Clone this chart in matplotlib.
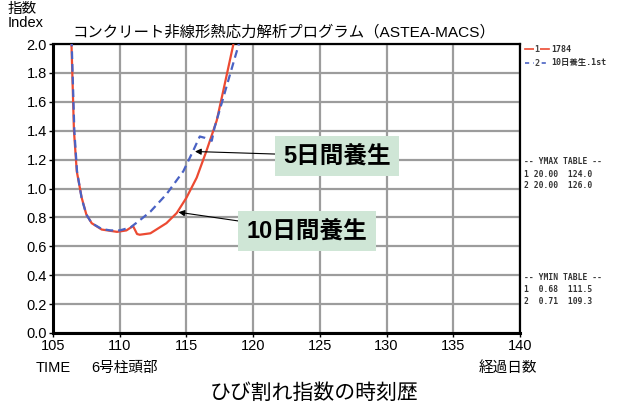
import numpy as np
import matplotlib
matplotlib.use("Agg")
import matplotlib.pyplot as plt
from matplotlib.lines import Line2D

plt.rcParams['font.family'] = ['Liberation Sans', 'Noto Sans CJK JP', 'DejaVu Sans']

# data
t_10 = [106.28, 106.4, 106.57, 106.78, 107.15, 107.5, 107.9, 108.65, 109.8, 110.5,
        111.0, 111.3, 111.5, 112.3, 113.5, 114.27, 115.0, 115.77, 116.5, 117.27,
        117.77, 118.5, 118.6]
y_10 = [2.3, 1.95, 1.40, 1.12, 0.936, 0.82, 0.76, 0.716, 0.70, 0.71,
        0.74, 0.685, 0.68, 0.69, 0.76, 0.83, 0.936, 1.075, 1.26, 1.47,
        1.68, 1.99, 2.05]

t_5 = [106.3, 106.42, 106.6, 106.8, 107.15, 107.5, 107.9, 108.65, 109.3, 110.0,
       110.8, 111.5, 112.3, 113.5, 114.77, 115.5, 116.0, 116.4, 116.9, 117.1,
       117.77, 118.3, 118.9, 119.0]
y_5 = [2.3, 1.95, 1.40, 1.12, 0.93, 0.82, 0.76, 0.72, 0.71, 0.71,
       0.73, 0.78, 0.84, 0.96, 1.12, 1.26, 1.36, 1.35, 1.33, 1.42,
       1.63, 1.80, 1.99, 2.05]

xticks = [105, 110, 115, 120, 125, 130, 135, 140]
yticks = np.round(np.arange(0, 2.01, 0.2), 1)

legend_names = ['1784', '10日養生.1st']
ymax_rows = ['-- YMAX TABLE --', '1 20.00  124.0', '2 20.00  126.0']
ymin_rows = ['-- YMIN TABLE --', '1  0.68  111.5', '2  0.71  109.3']

W, H = 617, 409
fig = plt.figure(figsize=(W / 100, H / 100), dpi=100)
ax = fig.add_axes([53 / W, 1 - 333 / H, 467 / W, 289 / H])

red = '#ec4a32'
blue = '#4a62c4'

ax.plot(t_10, y_10, color=red, lw=1.6, zorder=3)
ax.plot(t_5, y_5, color=blue, lw=1.6, ls=(0, (3.5, 2.2)), zorder=3)

ax.set_xlim(105, 140)
ax.set_ylim(0, 2.0)
ax.set_xticks(xticks)
ax.set_yticks(yticks)
ax.set_yticklabels([f'{v:.1f}' for v in yticks])
ax.grid(True, color='#9c9c9c', lw=1.6)
ax.set_axisbelow(True)
ax.tick_params(direction='out', length=3, width=1, labelsize=10.5, pad=1.5, colors='black')
for s in ax.spines.values():
    s.set_color('black')
    s.set_linewidth(1.6)
ax.spines['left'].set_linewidth(2.2)
ax.spines['bottom'].set_linewidth(2.2)

# callouts
box = dict(boxstyle='square,pad=0.35', fc='#cfe6d6', ec='none')
arr = dict(arrowstyle='-|>', color='black', lw=0.8, mutation_scale=9, shrinkA=0, shrinkB=0)
ax.annotate('5日間養生', xy=(115.64, 1.256), xytext=(337, H - 156),
            textcoords='figure pixels', ha='center', va='center',
            fontsize=17, fontweight='bold', bbox=box, arrowprops=arr)
ax.annotate('10日間養生', xy=(114.4, 0.836), xytext=(307, H - 231),
            textcoords='figure pixels', ha='center', va='center',
            fontsize=17, fontweight='bold', bbox=box, arrowprops=arr)

# texts around the axes
fig.text(8 / W, 1 - 9 / H, '指数', fontsize=10.5, va='center', ha='left')
fig.text(8 / W, 1 - 23 / H, 'Index', fontsize=10.5, va='center', ha='left')
fig.text(73 / W, 1 - 32 / H, 'コンクリート非線形熱応力解析プログラム（ASTEA-MACS）',
         fontsize=11.1, va='center', ha='left')
fig.text(53 / W, 1 - 368 / H, 'TIME', fontsize=10.5, va='center', ha='center')
fig.text(125 / W, 1 - 368 / H, '6号柱頭部', fontsize=10.5, va='center', ha='center')
fig.text(508 / W, 1 - 368 / H, '経過日数', fontsize=10.5, va='center', ha='center')
fig.text(314 / W, 1 - 393 / H, 'ひび割れ指数の時刻歴', fontsize=15, va='center', ha='center')

# legend drawn by hand
mono = ['DejaVu Sans Mono', 'Noto Sans CJK JP']
for i, (name, col, ls, mk) in enumerate(zip(legend_names, [red, blue],
                                             ['-', (0, (2.5, 2.5))], ['1', '2'])):
    yy = 1 - (49 + i * 14) / H
    fig.add_artist(Line2D([525 / W, 549 / W], [yy, yy], color=col, lw=1.2, ls=ls,
                          transform=fig.transFigure))
    fig.text(537 / W, yy, mk, fontsize=6, family=mono, color='#444444',
             ha='center', va='center', fontweight='bold',
             bbox=dict(fc='white', ec='none', pad=0.3))
    fig.text(551 / W, yy, name, fontsize=6, family=mono, ha='left', va='center',
             fontweight='bold', color='#333333')

for rows, y0 in [(ymax_rows, 162), (ymin_rows, 278)]:
    for j, row in enumerate(rows):
        fig.text(524 / W, 1 - (y0 + j * 12) / H, row, fontsize=5.8, family=mono,
                 ha='left', va='center', fontweight='bold', color='#333333')

fig.savefig('out.png', dpi=100)
